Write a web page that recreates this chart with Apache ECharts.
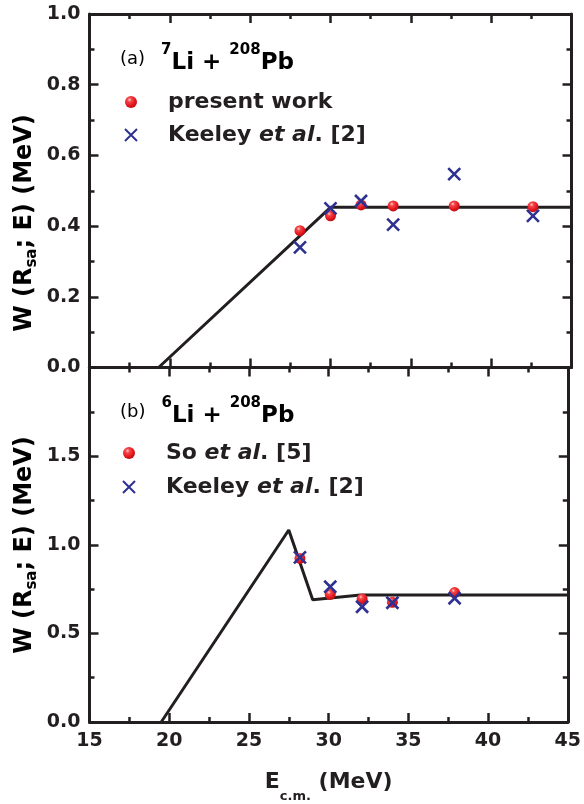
<!DOCTYPE html>
<html>
<head>
<meta charset="utf-8">
<script src="https://cdn.jsdelivr.net/npm/echarts@6/dist/echarts.min.js"></script>
<style>html,body{margin:0;padding:0;background:#fff;}#c{width:584px;height:804px;}</style>
</head>
<body>
<div id="c"></div>
<script>
// ---------- data ----------
const xRange = [15, 45];
const xTickStep = 5;
const topYRange = [0, 1.0];
const topYStep = 0.2;
const botYRange = [0, 2.0];
const botYStep = 0.5;

// (a) 7Li + 208Pb
const topLineE = [19.3, 30.0, 45];
const topLineW = [0, 0.453, 0.453];
const topPresentE = [28.1, 30.0, 31.9, 33.9, 37.7, 42.6];
const topPresentW = [0.387, 0.429, 0.460, 0.457, 0.457, 0.455];
const topKeeleyE = [28.1, 30.0, 31.9, 33.9, 37.7, 42.6];
const topKeeleyW = [0.340, 0.450, 0.471, 0.404, 0.547, 0.429];

// (b) 6Li + 208Pb
const botLineE = [19.5, 27.5, 29.0, 32.0, 45];
const botLineW = [0, 1.083, 0.690, 0.716, 0.716];
const botSoE = [28.2, 30.1, 32.1, 34.0, 37.9];
const botSoW = [0.923, 0.720, 0.694, 0.675, 0.730];
const botKeeleyE = [28.2, 30.1, 32.1, 34.0, 37.9];
const botKeeleyW = [0.929, 0.763, 0.650, 0.673, 0.698];

const legendTop = ['present work', 'Keeley (a)'];
const legendBot = ['So (b)', 'Keeley (b)'];

// ---------- styles ----------
const FONT = 'DejaVu Sans';
const INK = '#231f20';
const BLUE = '#2e3192';
const redBall = {
  type: 'radial', x: 0.38, y: 0.32, r: 0.7,
  colorStops: [
    {offset: 0, color: '#ffd0d0'},
    {offset: 0.25, color: '#f4474a'},
    {offset: 0.7, color: '#e3161c'},
    {offset: 1, color: '#b80f14'}
  ]
};
const xPath = 'path://M0 0L10 10M10 0L0 10';

const pairs = (xs, ys) => xs.map((x, i) => [x, ys[i]]);

const axisLineStyle = {color: INK, width: 3};
function xAxisDef(grid, pos, showLabel, extra) {
  return Object.assign({
    type: 'value', gridIndex: grid, position: pos,
    min: xRange[0], max: xRange[1], interval: xTickStep,
    axisLine: {show: true, onZero: false, lineStyle: axisLineStyle},
    axisTick: {show: true, inside: true, length: 9, lineStyle: {color: INK, width: 2.5}},
    minorTick: {show: true, splitNumber: 2, length: 5, lineStyle: {color: INK, width: 2.5}},
    splitLine: {show: false},
    axisLabel: {show: showLabel, margin: 10, color: INK, fontFamily: FONT, fontWeight: 'bold', fontSize: 19}
  }, extra || {});
}
function yAxisDef(grid, pos, range, step, showLabel, extra) {
  return Object.assign({
    type: 'value', gridIndex: grid, position: pos,
    min: range[0], max: range[1], interval: step,
    axisLine: {show: true, onZero: false, lineStyle: axisLineStyle},
    axisTick: {show: true, inside: true, length: 9, lineStyle: {color: INK, width: 2.5}},
    minorTick: {show: true, splitNumber: 2, length: 5, lineStyle: {color: INK, width: 2.5}},
    splitLine: {show: false},
    axisLabel: {show: showLabel, margin: 9, color: INK, fontFamily: FONT, fontWeight: 'bold', fontSize: 19,
      formatter: v => v.toFixed(1)}
  }, extra || {});
}

const legendRich = {
  g: {width: 25, fontSize: 22, lineHeight: 18},
  t: {fontFamily: FONT, fontWeight: 'bold', fontSize: 22, color: INK, lineHeight: 18},
  i: {fontFamily: FONT, fontWeight: 'bold', fontStyle: 'italic', fontSize: 22, color: INK, lineHeight: 18}
};
const legendLabels = {
  'present work': '{g|}{t|present work}',
  'Keeley (a)': '{g|}{t|Keeley }{i|et al}{t|. [2]}',
  'So (b)': '{g|}{t|So }{i|et al}{t|. [5]}',
  'Keeley (b)': '{g|}{t|Keeley }{i|et al}{t|. [2]}'
};

const titleRich = {
  a: {fontFamily: FONT, fontSize: 18, color: INK, lineHeight: 20, verticalAlign: 'middle', padding: [0, 16, 0, 0]},
  sp: {fontFamily: FONT, fontWeight: 'bold', fontSize: 15, color: INK, lineHeight: 15, verticalAlign: 'top'},
  b: {fontFamily: FONT, fontWeight: 'bold', fontSize: 23, color: INK, lineHeight: 32, verticalAlign: 'bottom'}
};
const yTitleRich = {
  n: {fontFamily: FONT, fontWeight: 'bold', fontSize: 24, color: INK, lineHeight: 24, verticalAlign: 'top'},
  s: {fontFamily: FONT, fontWeight: 'bold', fontSize: 15, color: INK, lineHeight: 27, verticalAlign: 'bottom'}
};
const yTitleText = '{n|W (R}{s|sa}{n|; E) (MeV)}';

const chart = echarts.init(document.getElementById('c'), null, {renderer: 'canvas'});
chart.setOption({
  animation: false,
  backgroundColor: '#ffffff',
  textStyle: {fontFamily: FONT},
  grid: [
    {left: 89.5, right: 12.5, top: 14, height: 353.5},
    {left: 89.5, right: 12.5, top: 367.5, height: 354.5}
  ],
  xAxis: [
    xAxisDef(0, 'bottom', false),
    xAxisDef(0, 'top', false),
    xAxisDef(1, 'bottom', true, {
      name: '{e|E}{s|c.m.}{e| (MeV)}', nameLocation: 'middle', nameGap: 49,
      nameTextStyle: {rich: {
        e: {fontFamily: FONT, fontWeight: 'bold', fontSize: 22, color: INK, lineHeight: 22, verticalAlign: 'top'},
        s: {fontFamily: FONT, fontWeight: 'bold', fontSize: 13, color: INK, lineHeight: 32, verticalAlign: 'bottom'}
      }}
    }),
    xAxisDef(1, 'top', false)
  ],
  yAxis: [
    yAxisDef(0, 'left', topYRange, topYStep, true, {axisLabel: {show: true, margin: 9, color: INK, fontFamily: FONT, fontWeight: 'bold', fontSize: 19, formatter: v => v.toFixed(1), showMinLabel: true, showMaxLabel: true}}),
    yAxisDef(0, 'right', topYRange, topYStep, false),
    yAxisDef(1, 'left', botYRange, botYStep, true, {axisLabel: {show: true, margin: 9, color: INK, fontFamily: FONT, fontWeight: 'bold', fontSize: 19, formatter: v => v.toFixed(1), showMinLabel: true, showMaxLabel: false}}),
    yAxisDef(1, 'right', botYRange, botYStep, false)
  ],
  legend: [
    {data: legendTop, orient: 'vertical', left: 124, top: 91, padding: 0, itemWidth: 14, itemHeight: 12, itemGap: 11,
      formatter: n => legendLabels[n], textStyle: {rich: legendRich}, selectedMode: false},
    {data: legendBot, orient: 'vertical', left: 122, top: 442, padding: 0, itemWidth: 14, itemHeight: 12, itemGap: 12,
      formatter: n => legendLabels[n], textStyle: {rich: legendRich}, selectedMode: false}
  ],
  graphic: [
    {type: 'text', left: 120, top: 43, style: {text: '{a|(a)}{sp|7}{b|Li + }{sp|208}{b|Pb}', rich: titleRich}},
    {type: 'text', left: 120, top: 396, style: {text: '{a|(b)}{sp|6}{b|Li + }{sp|208}{b|Pb}', rich: titleRich}},
    {type: 'text', x: 26, y: 223, rotation: Math.PI / 2, style: {text: yTitleText, rich: yTitleRich, align: 'center', verticalAlign: 'middle'}},
    {type: 'text', x: 26, y: 545, rotation: Math.PI / 2, style: {text: yTitleText, rich: yTitleRich, align: 'center', verticalAlign: 'middle'}}
  ],
  series: [
    {name: 'line a', type: 'line', xAxisIndex: 0, yAxisIndex: 0, data: pairs(topLineE, topLineW),
      symbol: 'none', lineStyle: {color: INK, width: 3}, z: 2},
    {name: 'present work', type: 'scatter', xAxisIndex: 0, yAxisIndex: 0, data: pairs(topPresentE, topPresentW),
      symbol: 'circle', symbolSize: 11, itemStyle: {color: redBall, opacity: 1}, z: 3},
    {name: 'Keeley (a)', type: 'scatter', xAxisIndex: 0, yAxisIndex: 0, data: pairs(topKeeleyE, topKeeleyW),
      symbol: xPath, symbolSize: 12, itemStyle: {color: BLUE, borderColor: BLUE, borderWidth: 2.6, opacity: 1}, z: 4},
    {name: 'line b', type: 'line', xAxisIndex: 2, yAxisIndex: 2, data: pairs(botLineE, botLineW),
      symbol: 'none', lineStyle: {color: INK, width: 3}, z: 2},
    {name: 'So (b)', type: 'scatter', xAxisIndex: 2, yAxisIndex: 2, data: pairs(botSoE, botSoW),
      symbol: 'circle', symbolSize: 11, itemStyle: {color: redBall, opacity: 1}, z: 3},
    {name: 'Keeley (b)', type: 'scatter', xAxisIndex: 2, yAxisIndex: 2, data: pairs(botKeeleyE, botKeeleyW),
      symbol: xPath, symbolSize: 12, itemStyle: {color: BLUE, borderColor: BLUE, borderWidth: 2.6, opacity: 1}, z: 4}
  ]
});
</script>
</body>
</html>
